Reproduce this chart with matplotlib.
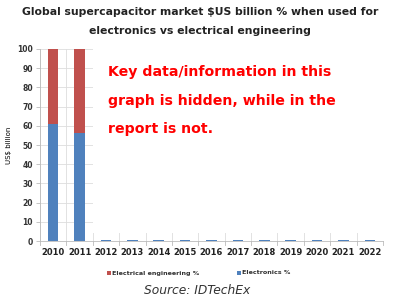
import matplotlib
matplotlib.use("Agg")
import matplotlib.pyplot as plt
from matplotlib.patches import Rectangle
import numpy as np

years = ["2010", "2011", "2012", "2013", "2014", "2015", "2016", "2017",
         "2018", "2019", "2020", "2021", "2022"]
electronics = [61, 56, 0.4, 0.4, 0.4, 0.4, 0.4, 0.4, 0.4, 0.4, 0.4, 0.4, 0.4]
electrical = [39, 44, 0.3, 0.3, 0.3, 0.3, 0.3, 0.3, 0.3, 0.3, 0.3, 0.3, 0.3]
yticks = list(range(0, 101, 10))

RED = "#c0504d"
BLUE = "#4f81bd"

fig = plt.figure(figsize=(4.0, 3.04), dpi=100)
ax = fig.add_axes([0.10, 0.207, 0.8575, 0.632])
x = np.arange(len(years))
ax.bar(x, electronics, width=0.4, color=BLUE, zorder=3)
ax.bar(x, electrical, width=0.4, bottom=electronics, color=RED, zorder=3)

ax.set_xlim(-0.5, len(years) - 0.5)
ax.set_ylim(0, 100)
ax.set_yticks(yticks)
ax.set_yticklabels([str(v) for v in yticks], fontsize=5.5, fontweight="bold", color="#333333")
ax.set_xticks(x)
ax.set_xticklabels(years, fontsize=6, fontweight="bold", color="#222222")
ax.tick_params(axis="x", length=0, pad=5)
ax.tick_params(axis="y", length=3, width=0.6, color="#bbbbbb", pad=2)
for b in np.arange(-0.5, len(years) + 0.5, 1.0):
    ax.axvline(b, color="#dddddd", lw=0.6, zorder=1)
    ax.plot([b, b], [0, -2], color="#bbbbbb", lw=0.6, clip_on=False, zorder=1)
ax.grid(axis="y", color="#dddddd", lw=0.6, zorder=1)
for s in ["top", "right"]:
    ax.spines[s].set_visible(False)
ax.spines["left"].set_color("#bbbbbb")
ax.spines["bottom"].set_color("#bbbbbb")
ax.spines["left"].set_linewidth(0.6)
ax.spines["bottom"].set_linewidth(0.6)
ax.set_ylabel("US$ billion", fontsize=5, labelpad=4)

box = Rectangle((93 / 400, 1 - 233 / 304), (390 - 93) / 400, (233 - 44) / 304,
                transform=fig.transFigure, facecolor="white", edgecolor="none", zorder=5)
fig.patches.append(box)

msg = ["Key data/information in this", "graph is hidden, while in the", "report is not."]
for i, line in enumerate(msg):
    fig.text(108 / 400, 1 - (72 + 28.5 * i) / 304, line, fontsize=10.2, fontweight="bold",
             color="#ff0000", ha="left", va="center", zorder=6)

fig.text(0.5, 1 - 12 / 304, "Global supercapacitor market $US billion % when used for",
         fontsize=7.8, fontweight="bold", color="#222222", ha="center", va="center")
fig.text(0.5, 1 - 31 / 304, "electronics vs electrical engineering",
         fontsize=7.8, fontweight="bold", color="#222222", ha="center", va="center")

fig.patches.append(Rectangle((107 / 400, 1 - 275 / 304), 4 / 400, 4 / 304,
                             transform=fig.transFigure, facecolor=RED, edgecolor="none"))
fig.text(112 / 400, 1 - 273 / 304, "Electrical engineering %", fontsize=4.6,
         fontweight="bold", color="#333333", ha="left", va="center")
fig.patches.append(Rectangle((237 / 400, 1 - 275 / 304), 4 / 400, 4 / 304,
                             transform=fig.transFigure, facecolor=BLUE, edgecolor="none"))
fig.text(242 / 400, 1 - 273 / 304, "Electronics %", fontsize=4.6,
         fontweight="bold", color="#333333", ha="left", va="center")

fig.text(197 / 400, 1 - 291 / 304, "Source: IDTechEx", fontsize=8.8, style="italic",
         color="#333333", ha="center", va="center")

fig.savefig("out.png", dpi=100, facecolor="white")
